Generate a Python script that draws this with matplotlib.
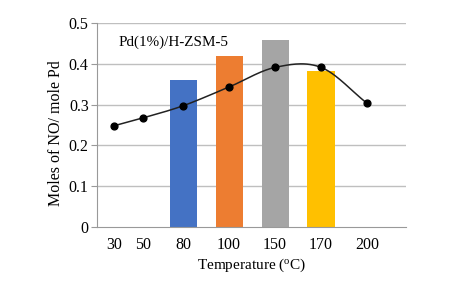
import numpy as np
import matplotlib
matplotlib.use("Agg")
import matplotlib.pyplot as plt

# data
temp_labels = ["30", "50", "80", "100", "150", "170", "200"]
line_values = [0.248, 0.267, 0.297, 0.343, 0.391, 0.391, 0.303]
bar_labels = ["80", "100", "150", "170"]
bar_values = [0.360, 0.419, 0.458, 0.381]
bar_colors = ["#4472C4", "#ED7D31", "#A5A5A5", "#FFC000"]
yticks = [0, 0.1, 0.2, 0.3, 0.4, 0.5]
ytick_labels = ["0", "0.1", "0.2", "0.3", "0.4", "0.5"]

# layout positions of the categories along the x axis
x_pos = [0.5, 1.12, 2, 3, 4, 5, 6]
bar_pos = [x_pos[temp_labels.index(b)] for b in bar_labels]

plt.rcParams['font.family'] = ['Liberation Serif', 'DejaVu Serif']
plt.rcParams['mathtext.fontset'] = 'custom'
plt.rcParams['mathtext.rm'] = 'Liberation Serif'

fig = plt.figure(figsize=(4.69, 2.83), dpi=100)
ax = fig.add_axes([0.207, 0.198, 0.659, 0.721])

for y in yticks[1:]:
    ax.axhline(y, color="#BFBFBF", lw=1.0, zorder=0)

ax.bar(bar_pos, bar_values, width=0.59, color=bar_colors, zorder=2)

# smooth curve (Catmull-Rom) through the points
def catmull(xs, ys, n=30):
    xs = np.asarray(xs, float); ys = np.asarray(ys, float)
    px = np.concatenate([[2*xs[0]-xs[1]], xs, [2*xs[-1]-xs[-2]]])
    py = np.concatenate([[2*ys[0]-ys[1]], ys, [2*ys[-1]-ys[-2]]])
    ox, oy = [], []
    for i in range(1, len(px)-2):
        t = np.linspace(0, 1, n)
        for arr, out in ((px, ox), (py, oy)):
            p0, p1, p2, p3 = arr[i-1], arr[i], arr[i+1], arr[i+2]
            out.extend(0.5*((2*p1) + (-p0+p2)*t + (2*p0-5*p1+4*p2-p3)*t**2 + (-p0+3*p1-3*p2+p3)*t**3))
    return ox, oy

cx, cy = catmull(x_pos, line_values)
ax.plot(cx, cy, color="#222222", lw=1.1, zorder=3)
ax.scatter(x_pos, line_values, s=24, color="black", zorder=4)

ax.set_xlim(0.13, 6.85)
ax.set_ylim(0, 0.5)
ax.set_yticks(yticks)
ax.set_yticklabels(ytick_labels, fontsize=11.5)
ax.set_xticks(x_pos)
ax.set_xticklabels(temp_labels, fontsize=11.5)
ax.tick_params(axis='x', length=0, pad=7)
ax.tick_params(axis='y', length=4, color="#999999", pad=2, direction='out')

for s in ["top", "right"]:
    ax.spines[s].set_visible(False)
ax.spines["left"].set_color("#999999")
ax.spines["bottom"].set_color("#999999")

ax.text(0.07, 0.905, "Pd(1%)/H-ZSM-5", transform=ax.transAxes, fontsize=10.9,
        va="center", ha="left")
ax.set_ylabel("Moles of NO/ mole Pd", fontsize=11.5)
ax.yaxis.set_label_coords(-0.108, 0.46)
ax.set_xlabel("Temperature ($\\mathregular{^{o}}$C)", fontsize=11, labelpad=3)

fig.savefig("out.png", dpi=100)
